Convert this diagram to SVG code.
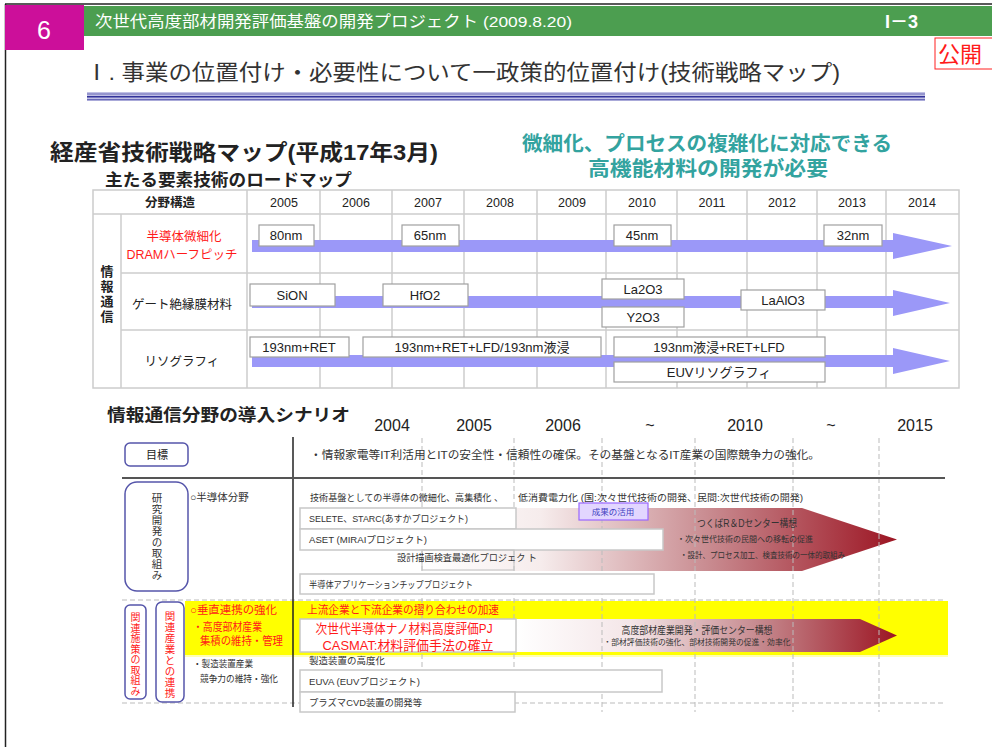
<svg xmlns="http://www.w3.org/2000/svg" width="992" height="747" viewBox="0 0 992 747">
<style>
text{font-family:'Liberation Sans','Noto Sans CJK JP',sans-serif;fill:#222}
.hd{fill:#fff}
.tb{fill:none;stroke:#cccccc;stroke-width:1.5}
.bx{fill:#fff;stroke:#c8c8c8;stroke-width:1.5}
.bt{font-size:13px;text-anchor:middle}
.yr{font-size:12.5px;text-anchor:middle}
.arr{fill:#9b98f8}
.lb{fill:#fff;stroke:#a0a0a0;stroke-width:1.2}
.sm{font-size:9.5px;fill:#333}
.red{fill:#ff1a1a}
.dash{stroke:#bbbbbb;stroke-width:1;stroke-dasharray:5,3;fill:none}
.rb{fill:#fff;stroke:#5555aa;stroke-width:1.5}
.vt{text-anchor:middle}
</style>
<defs>
<linearGradient id="g1" x1="0" y1="0" x2="1" y2="0">
<stop offset="0" stop-color="#ffffff"/>
<stop offset="0.25" stop-color="#f6ecec"/>
<stop offset="0.6" stop-color="#c98c91"/>
<stop offset="1" stop-color="#9c1523"/>
</linearGradient>
<linearGradient id="g2" x1="0" y1="0" x2="1" y2="0">
<stop offset="0" stop-color="#ffffff"/>
<stop offset="0.3" stop-color="#f4e6e8"/>
<stop offset="0.65" stop-color="#c4868b"/>
<stop offset="1" stop-color="#9c1523"/>
</linearGradient>
</defs>

<!-- header -->
<g id="header">
<line x1="5" y1="4" x2="992" y2="4" stroke="#222" stroke-width="1.5"/>
<line x1="5.5" y1="4" x2="5.5" y2="747" stroke="#222" stroke-width="1.5"/>
<rect x="84" y="6" width="908" height="30" fill="#4c9e50"/>
<rect x="5" y="5" width="79" height="45" fill="#cc0f9a"/>
<text x="44" y="39" class="hd" font-size="25" text-anchor="middle">6</text>
<text x="95" y="27" class="hd" font-size="15.5" textLength="477" lengthAdjust="spacingAndGlyphs">次世代高度部材開発評価基盤の開発プロジェクト (2009.8.20)</text>
<text x="885" y="28" class="hd" font-size="18" font-weight="bold">I－3</text>
<rect x="935" y="38" width="60" height="31" fill="#fff" stroke="#ff2020" stroke-width="1"/>
<text x="938" y="62" font-size="22" style="fill:#ff1a1a">公開</text>
<text x="85" y="80" font-size="22" textLength="755" lengthAdjust="spacingAndGlyphs" style="fill:#333">Ⅰ. 事業の位置付け・必要性について一政策的位置付け(技術戦略マップ)</text>
<rect x="87" y="92" width="838" height="9" fill="#c0c0e4"/>
<line x1="87" y1="94" x2="925" y2="94" stroke="#6a6ab8" stroke-width="1.2"/>
<line x1="87" y1="96.8" x2="925" y2="96.8" stroke="#333399" stroke-width="1.6"/>
<line x1="87" y1="99.6" x2="925" y2="99.6" stroke="#6a6ab8" stroke-width="1.2"/>
</g>

<g id="titles">
<text x="50" y="160" font-size="22" font-weight="bold" textLength="388" lengthAdjust="spacingAndGlyphs">経産省技術戦略マップ(平成17年3月)</text>
<text x="105" y="186" font-size="17" font-weight="bold" textLength="247" lengthAdjust="spacingAndGlyphs">主たる要素技術のロードマップ</text>
<text x="707" y="151" font-size="20" font-weight="bold" text-anchor="middle" textLength="370" lengthAdjust="spacingAndGlyphs" style="fill:#33a39f">微細化、プロセスの複雑化に対応できる</text>
<text x="708" y="176" font-size="20" font-weight="bold" text-anchor="middle" textLength="240" lengthAdjust="spacingAndGlyphs" style="fill:#33a39f">高機能材料の開発が必要</text>
</g>

<!-- roadmap table -->
<g id="table">
<rect x="93" y="190" width="866" height="198" class="tb"/>
<line x1="93" y1="214" x2="959" y2="214" class="tb"/>
<line x1="121" y1="214" x2="121" y2="388" class="tb"/>
<line x1="247" y1="190" x2="247" y2="388" class="tb"/>
<line x1="320" y1="190" x2="320" y2="388" class="tb"/>
<line x1="392" y1="190" x2="392" y2="388" class="tb"/>
<line x1="464" y1="190" x2="464" y2="388" class="tb"/>
<line x1="537" y1="190" x2="537" y2="388" class="tb"/>
<line x1="606" y1="190" x2="606" y2="388" class="tb"/>
<line x1="677" y1="190" x2="677" y2="388" class="tb"/>
<line x1="747" y1="190" x2="747" y2="388" class="tb"/>
<line x1="817" y1="190" x2="817" y2="388" class="tb"/>
<line x1="886" y1="190" x2="886" y2="388" class="tb"/>
<line x1="121" y1="273" x2="959" y2="273" class="tb"/>
<line x1="121" y1="330" x2="959" y2="330" class="tb"/>
<text x="170" y="207" class="yr" font-weight="bold">分野構造</text>
<text x="284" y="207" class="yr">2005</text>
<text x="356" y="207" class="yr">2006</text>
<text x="428" y="207" class="yr">2007</text>
<text x="500" y="207" class="yr">2008</text>
<text x="572" y="207" class="yr">2009</text>
<text x="642" y="207" class="yr">2010</text>
<text x="712" y="207" class="yr">2011</text>
<text x="782" y="207" class="yr">2012</text>
<text x="852" y="207" class="yr">2013</text>
<text x="922" y="207" class="yr">2014</text>
<text class="vt" font-size="13" font-weight="bold"><tspan x="107" y="276">情</tspan><tspan x="107" y="291">報</tspan><tspan x="107" y="306">通</tspan><tspan x="107" y="321">信</tspan></text>
</g>

<g id="row-semiconductor">
<text x="184" y="241" font-size="12.5" text-anchor="middle" class="red">半導体微細化</text>
<text x="182" y="259" font-size="12.5" text-anchor="middle" class="red">DRAMハーフピッチ</text>
<path class="arr" d="M252,240 H893 V233 L952,246 L893,259 V252 H252 Z"/>
<rect x="259" y="225" width="55" height="21" class="lb"/><text x="286" y="240" class="bt">80nm</text>
<rect x="402" y="225" width="57" height="21" class="lb"/><text x="430" y="240" class="bt">65nm</text>
<rect x="614" y="225" width="57" height="21" class="lb"/><text x="642" y="240" class="bt">45nm</text>
<rect x="824" y="225" width="58" height="21" class="lb"/><text x="853" y="240" class="bt">32nm</text>
</g>

<g id="row-gate">
<text x="182" y="309" font-size="12.5" text-anchor="middle">ゲート絶縁膜材料</text>
<path class="arr" d="M252,296 H893 V290 L950,303 L893,316 V308 H252 Z"/>
<rect x="250" y="284" width="85" height="22" class="lb"/><text x="292" y="300" class="bt">SiON</text>
<rect x="383" y="284" width="85" height="22" class="lb"/><text x="425" y="300" class="bt">HfO2</text>
<rect x="602" y="279" width="82" height="20" class="lb"/><text x="643" y="294" class="bt">La2O3</text>
<rect x="602" y="307" width="82" height="20" class="lb"/><text x="643" y="322" class="bt">Y2O3</text>
<rect x="741" y="290" width="84" height="20" class="lb"/><text x="783" y="305" class="bt">LaAlO3</text>
</g>

<g id="row-litho">
<text x="182" y="366" font-size="12.5" text-anchor="middle">リソグラフィ</text>
<path class="arr" d="M252,355 H893 V348 L950,361 L893,374 V367 H252 Z"/>
<rect x="250" y="337" width="99" height="20" class="lb"/><text x="299" y="352" class="bt">193nm+RET</text>
<rect x="363" y="337" width="238" height="20" class="lb"/><text x="482" y="352" class="bt">193nm+RET+LFD/193nm液浸</text>
<rect x="614" y="337" width="211" height="20" class="lb"/><text x="719" y="352" class="bt">193nm液浸+RET+LFD</text>
<rect x="614" y="362" width="211" height="20" class="lb"/><text x="719" y="377" class="bt">EUVリソグラフィ</text>
</g>

<!-- scenario -->
<g id="scenario-head">
<text x="107" y="421" font-size="17" font-weight="bold" textLength="243" lengthAdjust="spacingAndGlyphs">情報通信分野の導入シナリオ</text>
<g font-size="16" text-anchor="middle">
<text x="392" y="431">2004</text>
<text x="474" y="431">2005</text>
<text x="563" y="431">2006</text>
<text x="650" y="431">~</text>
<text x="745" y="431">2010</text>
<text x="831" y="431">~</text>
<text x="915" y="431">2015</text>
</g>
</g>

<g id="yellow-band">
<rect x="185" y="601" width="763" height="54" fill="#ffff00"/>
<line x1="185" y1="656" x2="948" y2="656" stroke="#ffff99" stroke-width="1.5"/>
</g>

<g id="arrow-tsukuba">
<path d="M422,508 H802 L897,539.5 L802,571 H422 Z" fill="url(#g1)"/>
</g>
<g id="arrow-center">
<path d="M516,619 H860 L897,635.5 L860,652 H516 Z" fill="url(#g2)"/>
</g>

<g id="grid">
<line x1="422" y1="438" x2="422" y2="712" class="dash"/>
<line x1="514" y1="438" x2="514" y2="712" class="dash"/>
<line x1="602" y1="438" x2="602" y2="712" class="dash"/>
<line x1="695" y1="438" x2="695" y2="712" class="dash"/>
<line x1="793" y1="438" x2="793" y2="712" class="dash"/>
<line x1="879" y1="438" x2="879" y2="712" class="dash"/>
<line x1="122" y1="600" x2="945" y2="600" class="dash"/>
<line x1="122" y1="703" x2="945" y2="703" class="dash"/>
<line x1="293" y1="437" x2="293" y2="707" stroke="#222" stroke-width="1.5"/>
<line x1="122" y1="478" x2="945" y2="478" stroke="#555" stroke-width="2"/>
</g>

<g id="goal">
<rect x="125" y="443" width="63" height="23" rx="5" class="rb"/>
<text x="157" y="459" font-size="11" text-anchor="middle">目標</text>
<text x="310" y="459" font-size="11.5" textLength="510" lengthAdjust="spacingAndGlyphs" style="fill:#333">・情報家電等IT利活用とITの安全性・信頼性の確保。その基盤となるIT産業の国際競争力の強化。</text>
</g>

<g id="research">
<rect x="125" y="482" width="63" height="109" rx="12" class="rb"/>
<text class="vt" font-size="10.5" style="fill:#333"><tspan x="157" y="502">研</tspan><tspan x="157" y="513">究</tspan><tspan x="157" y="524">開</tspan><tspan x="157" y="535">発</tspan><tspan x="157" y="546">の</tspan><tspan x="157" y="557">取</tspan><tspan x="157" y="568">組</tspan><tspan x="157" y="579">み</tspan></text>
<text x="190" y="501" font-size="10.5" style="fill:#333">○半導体分野</text>
<text x="310" y="501" class="sm" textLength="193" lengthAdjust="spacingAndGlyphs">技術基盤としての半導体の微細化、高集積化 、</text>
<text x="518" y="501" class="sm" textLength="285" lengthAdjust="spacingAndGlyphs">低消費電力化 (国:次々世代技術の開発、民間:次世代技術の開発)</text>
</g>

<g id="boxes-research">
<rect x="300" y="508" width="216" height="21" class="bx"/>
<text x="309" y="522" class="sm" textLength="159" lengthAdjust="spacingAndGlyphs">SELETE、STARC(あすかプロジェクト)</text>
<rect x="300" y="529" width="363" height="21" class="bx"/>
<text x="309" y="543" class="sm" textLength="118" lengthAdjust="spacingAndGlyphs">ASET (MIRAIプロジェクト)</text>
<rect x="422" y="550" width="92" height="20" fill="none" stroke="#c8c8c8" stroke-width="1.2"/>
<text x="397" y="561" class="sm" textLength="140" lengthAdjust="spacingAndGlyphs">設計描画検査最適化プロジェク ト</text>
<rect x="300" y="574" width="354" height="20" class="bx"/>
<text x="309" y="588" class="sm" textLength="164" lengthAdjust="spacingAndGlyphs">半導体アプリケーションチッププロジェクト</text>
<rect x="579" y="503" width="69" height="17" fill="#e2d6ff" stroke="#9966ff" stroke-width="1.2"/>
<text x="613" y="515" font-size="8.5" text-anchor="middle" style="fill:#4040c0">成果の活用</text>
<text x="747" y="527" font-size="10.5" text-anchor="middle" textLength="100" lengthAdjust="spacingAndGlyphs" style="fill:#333">つくばR＆Dセンター構想</text>
<text x="677" y="542" font-size="8.5" textLength="136" lengthAdjust="spacingAndGlyphs" style="fill:#333">・次々世代技術の民間への移転の促進</text>
<text x="680" y="558" font-size="8.5" textLength="165" lengthAdjust="spacingAndGlyphs" style="fill:#333">・設計、プロセス加工、検査技術の一体的取組み</text>
</g>

<g id="related">
<rect x="125" y="605" width="21" height="94" rx="5" class="rb"/>
<text class="vt red" font-size="10"><tspan x="135.5" y="621">関</tspan><tspan x="135.5" y="631.5">連</tspan><tspan x="135.5" y="642">施</tspan><tspan x="135.5" y="652.5">策</tspan><tspan x="135.5" y="663">の</tspan><tspan x="135.5" y="673.5">取</tspan><tspan x="135.5" y="684">組</tspan><tspan x="135.5" y="694.5">み</tspan></text>
<rect x="156" y="602" width="28" height="100" rx="6" class="rb"/>
<text class="vt red" font-size="10.5"><tspan x="170" y="620">関</tspan><tspan x="170" y="631">連</tspan><tspan x="170" y="642">産</tspan><tspan x="170" y="653">業</tspan><tspan x="170" y="664">と</tspan><tspan x="170" y="675">の</tspan><tspan x="170" y="686">連</tspan><tspan x="170" y="697">携</tspan></text>
<text x="190" y="614" font-size="11" class="red" textLength="87" lengthAdjust="spacingAndGlyphs">○垂直連携の強化</text>
<text x="193" y="631" font-size="11" class="red" textLength="69" lengthAdjust="spacingAndGlyphs">・高度部材産業</text>
<text x="200" y="645" font-size="11" class="red" textLength="83" lengthAdjust="spacingAndGlyphs">集積の維持・管理</text>
<text x="193" y="667" class="sm" textLength="60" lengthAdjust="spacingAndGlyphs">・製造装置産業</text>
<text x="200" y="682" class="sm" textLength="78" lengthAdjust="spacingAndGlyphs">競争力の維持・強化</text>
<text x="307" y="614" font-size="11" class="red" textLength="192" lengthAdjust="spacingAndGlyphs">上流企業と下流企業の摺り合わせの加速</text>
</g>

<g id="boxes-related">
<rect x="300" y="619" width="216" height="33" class="bx"/>
<text x="404" y="633" font-size="13" text-anchor="middle" class="red" textLength="177" lengthAdjust="spacingAndGlyphs">次世代半導体ナノ材料高度評価PJ</text>
<text x="408" y="650" font-size="13" text-anchor="middle" class="red" textLength="171" lengthAdjust="spacingAndGlyphs">CASMAT:材料評価手法の確立</text>
<text x="697" y="634" font-size="10" text-anchor="middle" textLength="151" lengthAdjust="spacingAndGlyphs" style="fill:#333">高度部材産業開発・評価センター構想</text>
<text x="697" y="645" font-size="8" text-anchor="middle" textLength="187" lengthAdjust="spacingAndGlyphs" style="fill:#333">・部材評価技術の強化、部材技術開発の促進・効率化</text>
<text x="309" y="664" class="sm" textLength="76" lengthAdjust="spacingAndGlyphs">製造装置の高度化</text>
<rect x="300" y="670" width="362" height="22" class="bx"/>
<text x="309" y="685" class="sm" textLength="111" lengthAdjust="spacingAndGlyphs">EUVA (EUVプロジェクト)</text>
<rect x="300" y="692" width="215" height="20" class="bx"/>
<text x="309" y="706" class="sm" textLength="113" lengthAdjust="spacingAndGlyphs">プラズマCVD装置の開発等</text>
</g>
</svg>
